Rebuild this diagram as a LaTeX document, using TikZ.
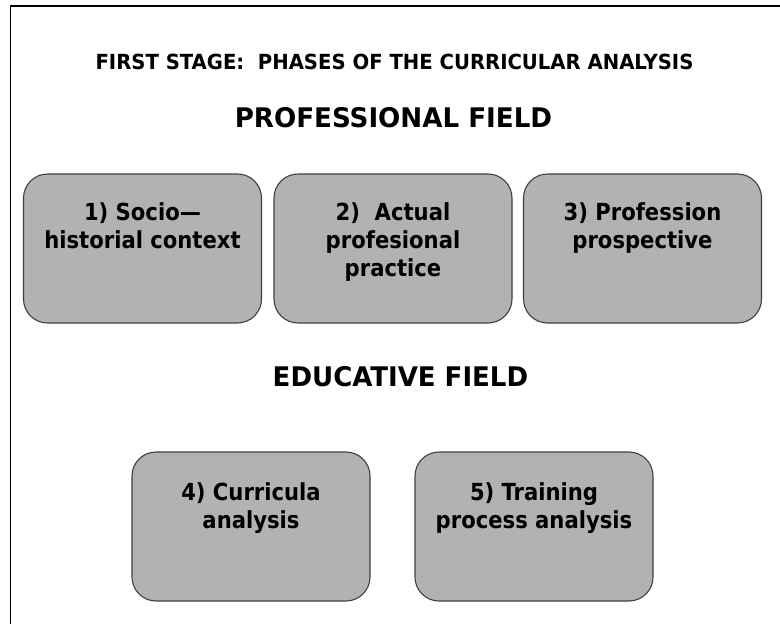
\documentclass[tikz,border=0pt]{standalone}
\usepackage{fontspec}
\setmainfont{DejaVu Sans Condensed}[BoldFont={DejaVu Sans Condensed Bold}]
\definecolor{boxfill}{HTML}{B2B2B2}
\definecolor{boxline}{HTML}{404040}
\begin{document}
\begin{tikzpicture}[x=1pt,y=-1pt,
  stagebox/.style={draw=boxline, line width=1.1pt, fill=boxfill, rounded corners=24pt,
    minimum width=238pt, minimum height=149pt, inner sep=0pt},
  boxtext/.style={anchor=north, align=center, inner sep=0pt,
    font=\fontsize{23.5pt}{28pt}\selectfont\bfseries},
  titletext/.style={anchor=base, inner sep=0pt, font=\fontsize{20.8pt}{24pt}\selectfont\bfseries},
  headtext/.style={anchor=base, inner sep=0pt, font=\fontsize{27pt}{32pt}\selectfont\bfseries}]
\useasboundingbox (0,0) rectangle (780,624);
\draw[line width=1.8pt] (10.5,624) -- (10.5,6) -- (780,6);
\node[titletext] (title) at (394.5,69) {\scalebox{1.05}[1]{FIRST STAGE:\ \ PHASES OF THE CURRICULAR ANALYSIS}};
\node[headtext] (prof) at (393.5,127) {\scalebox{1.077}[1]{PROFESSIONAL FIELD}};
\node[headtext] (edu) at (400.5,386) {\scalebox{1.072}[1]{EDUCATIVE FIELD}};
\node[stagebox] (b1) at (142.5,248.5) {};
\node[stagebox] (b2) at (393,248.5) {};
\node[stagebox] (b3) at (642.5,248.5) {};
\node[stagebox] (b4) at (251,526.5) {};
\node[stagebox] (b5) at (534,526.5) {};
\node[boxtext] (t1) at (142.5,202) {1) Socio—\\historial context};
\node[boxtext] (t2) at (393,202) {2)\ \ Actual\\profesional\\practice};
\node[boxtext] (t3) at (642.5,202) {3) Profession\\prospective};
\node[boxtext] (t4) at (251,482) {4) Curricula\\analysis};
\node[boxtext] (t5) at (534,482) {5) Training\\process analysis};
\end{tikzpicture}
\end{document}
